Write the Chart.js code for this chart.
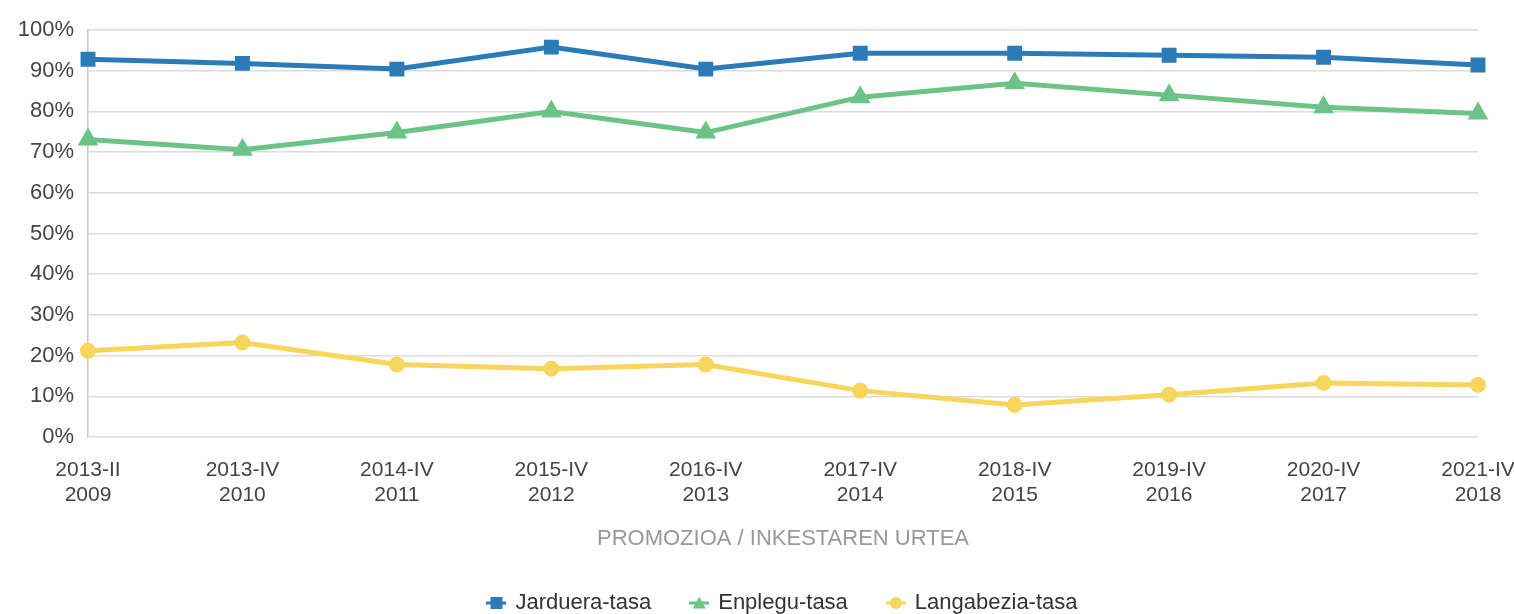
<!DOCTYPE html>
<html>
<head>
<meta charset="utf-8">
<script src="https://cdn.jsdelivr.net/npm/chart.js@4"></script>
<style>
  body { margin: 0; background: #fff; }
  #wrap { width: 1514px; height: 614px; }
</style>
</head>
<body>
<div id="wrap"><canvas id="chart" width="1514" height="614"></canvas></div>
<script>
// Promozioa / inkestaren urtea
const promozioak = ['2013-II', '2013-IV', '2014-IV', '2015-IV', '2016-IV', '2017-IV', '2018-IV', '2019-IV', '2020-IV', '2021-IV'];
const urteak = ['2009', '2010', '2011', '2012', '2013', '2014', '2015', '2016', '2017', '2018'];

// Tasak (%)
const jarduera = [92.8, 91.8, 90.4, 95.8, 90.4, 94.3, 94.3, 93.8, 93.3, 91.4];
const enplegu = [73.1, 70.6, 74.8, 80.0, 74.8, 83.5, 86.9, 84.0, 81.0, 79.5];
const langabezia = [21.2, 23.2, 17.8, 16.8, 17.8, 11.4, 7.9, 10.4, 13.3, 12.8];

const labels = promozioak.map((p, i) => [p, urteak[i]]);

const font = "'Liberation Sans', Arial, sans-serif";

const kolorea = ['#2b7bb9', '#6cc387', '#f8d55c'];

// legendako ikonoak: marra + markatzailea
function ikonoa(color, shape) {
    const c = document.createElement('canvas');
    c.width = 20; c.height = 14;
    const ctx = c.getContext('2d');
    ctx.fillStyle = color;
    ctx.fillRect(0, 5.5, 20, 3);
    ctx.beginPath();
    if (shape === 'rect') {
        ctx.rect(4, 1, 12, 12);
    } else if (shape === 'triangle') {
        ctx.moveTo(10, 0.5); ctx.lineTo(16.5, 12.5); ctx.lineTo(3.5, 12.5); ctx.closePath();
    } else {
        ctx.arc(10, 7, 6, 0, Math.PI * 2);
    }
    ctx.fill();
    return c;
}
const ikonoak = [ikonoa(kolorea[0], 'rect'), ikonoa(kolorea[1], 'triangle'), ikonoa(kolorea[2], 'circle')];

new Chart(document.getElementById('chart'), {
    type: 'line',
    data: {
        labels: labels,
        datasets: [
            {
                label: 'Jarduera-tasa',
                data: jarduera,
                borderColor: kolorea[0],
                backgroundColor: kolorea[0],
                borderWidth: 5,
                pointStyle: 'rect',
                pointRadius: 7,
                pointHoverRadius: 7
            },
            {
                label: 'Enplegu-tasa',
                data: enplegu,
                borderColor: kolorea[1],
                backgroundColor: kolorea[1],
                borderWidth: 5,
                pointStyle: 'triangle',
                pointRadius: 7,
                pointHoverRadius: 7
            },
            {
                label: 'Langabezia-tasa',
                data: langabezia,
                borderColor: kolorea[2],
                backgroundColor: kolorea[2],
                borderWidth: 5,
                pointStyle: 'circle',
                pointRadius: 5.5,
                pointHoverRadius: 5.5
            }
        ]
    },
    options: {
        responsive: false,
        animation: false,
        layout: { padding: { top: 30, right: 0, left: 0, bottom: -10 } },
        plugins: {
            legend: {
                position: 'bottom',
                fullSize: false,
                labels: {
                    usePointStyle: true,
                    boxWidth: 16,
                    boxHeight: 12,
                    padding: 40,
                    color: '#333',
                    font: { family: font, size: 22, lineHeight: 1 },
                    generateLabels: chart => {
                        const items = Chart.defaults.plugins.legend.labels.generateLabels(chart);
                        items.forEach((it, i) => { it.pointStyle = ikonoak[i]; });
                        return items;
                    }
                }
            },
            tooltip: { enabled: false }
        },
        scales: {
            x: {
                offset: false,
                grid: { display: false, drawTicks: false },
                border: { display: false },
                ticks: {
                    color: '#444',
                    padding: 21,
                    maxRotation: 0,
                    autoSkip: false,
                    font: { family: font, size: 21, lineHeight: 1.18 }
                },
                title: {
                    display: true,
                    text: 'PROMOZIOA / INKESTAREN URTEA',
                    color: '#999',
                    padding: { top: -3, bottom: 0 },
                    font: { family: font, size: 22 }
                },
                afterFit: s => { s.paddingRight = 36; s.paddingLeft = 0; }
            },
            y: {
                min: 0,
                max: 100,
                grid: { color: '#dcdcdc', lineWidth: 1.5, drawTicks: false },
                border: { display: true, color: '#c8c8c8', width: 1.5 },
                ticks: {
                    stepSize: 10,
                    color: '#444',
                    padding: 14,
                    font: { family: font, size: 22 },
                    callback: v => v + '%'
                },
                afterFit: s => { s.width = 88; }
            }
        }
    }
});
</script>
</body>
</html>
